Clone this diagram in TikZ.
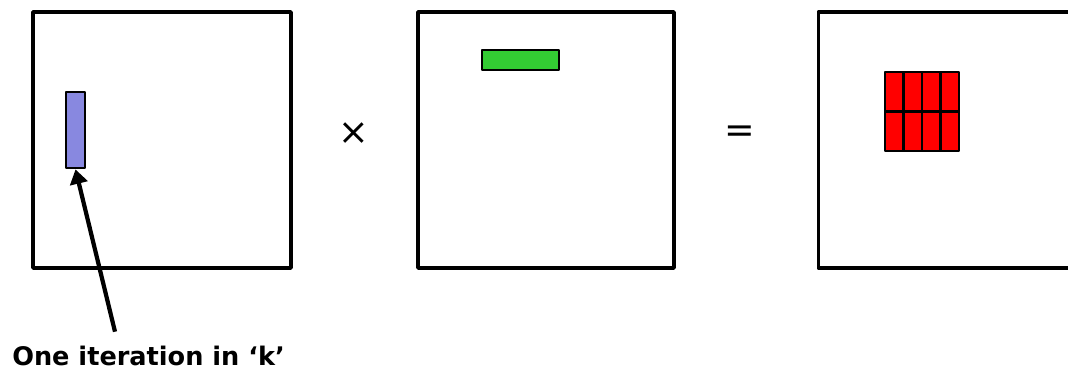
\documentclass[tikz,border=0pt]{standalone}
\usepackage{fontspec}
\setsansfont{DejaVu Sans}
\usepackage{xcolor}
\usepackage{tikz}
\usetikzlibrary{positioning, arrows.meta}

\definecolor{kblue}{RGB}{136,136,224}
\definecolor{kgreen}{RGB}{51,204,51}
\definecolor{kred}{RGB}{255,0,0}

\begin{document}
\begin{tikzpicture}[
    matbox/.style={draw, line width=2.6pt, line join=round, minimum width=6.4cm,
                   minimum height=6.4cm, inner sep=0pt},
    tile/.style={draw, line width=2pt, line join=round, inner sep=0pt},
    op/.style={font=\sffamily\fontsize{26}{30}\selectfont},
    arr/.style={-{Triangle[length=3.6mm, width=4.4mm]}, line width=3pt}
  ]
    \clip (0,0) rectangle (26.7,-9.375);
    % Matrices
    \node[matbox, minimum width=6.45cm] (ma) at (4.05,-3.5) {};
    \node[matbox] (mb) at (13.65,-3.5) {};
    \node[matbox] (mc) at (23.66,-3.5) {};
    % Operators
    \node[op] (times) at (8.85,-3.35) {×};
    \node[op] (eq) at (18.5,-3.35) {=};
    % Column block of A, row block of B
    \node[tile, fill=kblue, minimum width=0.475cm, minimum height=1.9cm]
          (kblk) at (1.8875,-3.25) {};
    \node[tile, fill=kgreen, minimum width=1.925cm, minimum height=0.5cm]
          (rowblk) at (13.01,-1.5) {};
    % Tiles of C
    \foreach \i in {0,...,3}
      \foreach \j in {0,1}
        \node[tile, fill=kred, minimum width=0.4625cm, minimum height=0.9875cm]
              (c\i\j) at ({22.125+(\i+0.5)*0.4625},{-1.8-(\j+0.5)*0.9875}) {};
    % Label
    \node[anchor=base west, inner sep=0pt,
          font=\sffamily\bfseries\fontsize{18.2}{22}\selectfont]
          (label) at (0.3,-9.125) {One iteration in ‘k’};
    \draw[arr] ([xshift=2.575cm, yshift=0.34cm]label.north west) -- (kblk.south);
\end{tikzpicture}
\end{document}
